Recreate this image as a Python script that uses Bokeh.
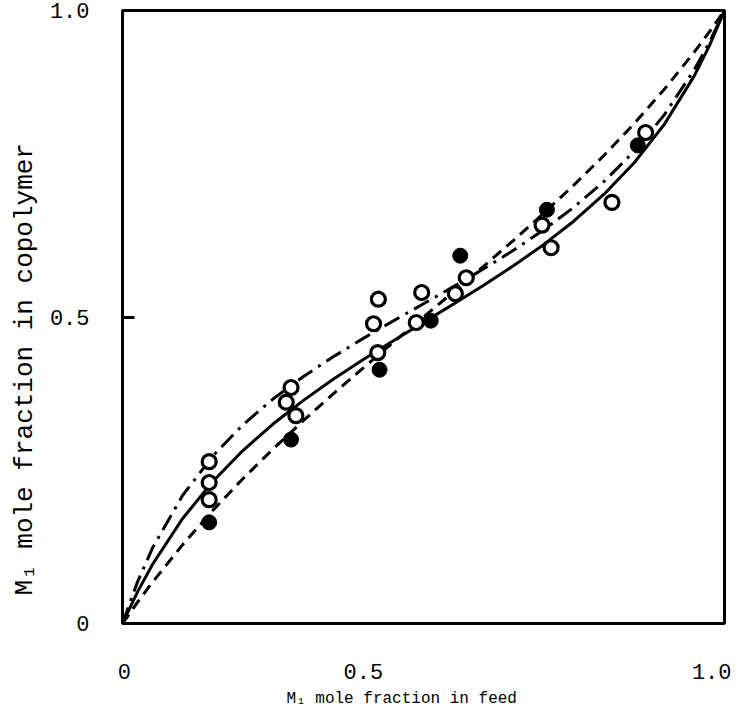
from bokeh.plotting import figure
from bokeh.models import Range1d, FixedTicker, Title
from bokeh.embed import file_html
from bokeh.resources import INLINE

# M1 mole fraction in feed for the drawn curves
feed = [0, 0.025, 0.05, 0.1, 0.15, 0.2, 0.25, 0.3, 0.35, 0.4, 0.45, 0.5,
        0.55, 0.6, 0.65, 0.7, 0.75, 0.8, 0.85, 0.9, 0.95, 0.975, 1.0]
# curve values
solid_curve = [0, 0.0516, 0.0966, 0.1714, 0.2317, 0.2821, 0.3254, 0.3636, 0.3984,
               0.4306, 0.4613, 0.4912, 0.5211, 0.5517, 0.5839, 0.6184, 0.6567,
               0.7003, 0.7517, 0.8142, 0.8937, 0.9426, 1.0]
dashed_curve = [0, 0.0347, 0.0676, 0.1286, 0.1845, 0.2362, 0.2846, 0.3305, 0.3745,
                0.4171, 0.4588, 0.5, 0.5412, 0.5829, 0.6255, 0.6695, 0.7154,
                0.7638, 0.8155, 0.8714, 0.9324, 0.9653, 1.0]
dashdot_curve = [0, 0.0680, 0.1234, 0.2092, 0.2733, 0.3241, 0.3662, 0.4026, 0.4351,
                 0.4651, 0.4937, 0.5216, 0.5496, 0.5786, 0.6092, 0.6423, 0.6792,
                 0.7212, 0.7704, 0.8297, 0.9037, 0.9484, 1.0]

# experimental points
open_x = [0.144, 0.144, 0.144, 0.280, 0.272, 0.288, 0.425, 0.417, 0.424,
          0.488, 0.497, 0.553, 0.571, 0.697, 0.712, 0.813, 0.869]
open_y = [0.264, 0.230, 0.202, 0.385, 0.361, 0.339, 0.529, 0.489, 0.442,
          0.491, 0.540, 0.538, 0.564, 0.650, 0.613, 0.687, 0.801]
filled_x = [0.144, 0.280, 0.427, 0.512, 0.561, 0.705, 0.856]
filled_y = [0.165, 0.300, 0.414, 0.494, 0.600, 0.675, 0.780]

y_ticks = [0, 0.5, 1.0]
tick_labels = ["0", "0.5", "1.0"]
# where the typed labels under the x axis sit on the original figure
x_label_pos = [0.003, 0.40, 0.988]

x_title = "M\u2081 mole fraction in feed"
y_title = "M\u2081 mole fraction in copolymer"

FONT = "Liberation Mono"

p = figure(width=731, height=720, x_range=Range1d(0, 1), y_range=Range1d(0, 1),
           output_backend="svg", toolbar_location=None,
           min_border_left=120, min_border_right=7, min_border_top=10,
           min_border_bottom=97)

p.background_fill_color = "white"
p.border_fill_color = "white"
p.outline_line_color = "black"
p.outline_line_width = 3
p.grid.visible = False

xa = p.xaxis[0]
xa.ticker = FixedTicker(ticks=x_label_pos)
xa.major_label_overrides = {v: l for v, l in zip(x_label_pos, tick_labels)}
xa.axis_line_color = None
xa.major_tick_line_color = None
xa.minor_tick_line_color = None
xa.major_tick_in = 0
xa.major_tick_out = 0
xa.major_label_standoff = 40

ya = p.yaxis[0]
ya.ticker = FixedTicker(ticks=y_ticks)
ya.major_label_overrides = {v: l for v, l in zip(y_ticks, tick_labels)}
ya.axis_line_color = "black"
ya.axis_line_width = 3
ya.major_tick_line_color = "black"
ya.major_tick_line_width = 3
ya.major_tick_in = 12
ya.major_tick_out = 0
ya.minor_tick_line_color = None
ya.major_label_standoff = 33
ya.major_label_orientation = "horizontal"

for ax in (xa, ya):
    ax.major_label_text_font = FONT
    ax.major_label_text_font_size = "22px"
    ax.major_label_text_color = "black"

p.add_layout(Title(text=x_title, align="left", offset=164, standoff=12,
                   text_font=FONT, text_font_size="16px",
                   text_font_style="normal", text_color="black"), "below")
p.add_layout(Title(text=y_title, align="left", offset=28, standoff=14,
                   text_font=FONT, text_font_size="26px",
                   text_font_style="normal", text_color="black"), "left")

p.line(feed, solid_curve, line_color="black", line_width=3)
p.line(feed, dashed_curve, line_color="black", line_width=3, line_dash="11 7")
p.line(feed, dashdot_curve, line_color="black", line_width=3, line_dash="17 7 3 7")

p.scatter(open_x, open_y, size=14, marker="circle", fill_color="white",
          line_color="black", line_width=3.2)
p.scatter(filled_x, filled_y, size=15, marker="circle", fill_color="black",
          line_color="black", line_width=1)

open("out.html", "w").write(file_html(p, INLINE))
